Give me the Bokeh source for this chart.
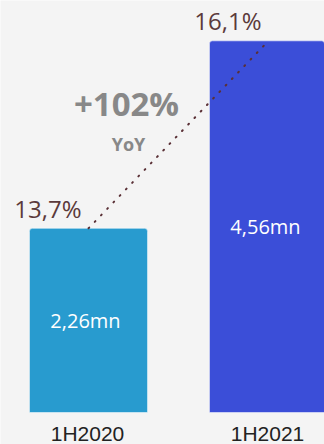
from bokeh.plotting import figure
from bokeh.models import ColumnDataSource, Range1d, Label
from bokeh.core.properties import value
from bokeh.embed import file_html
from bokeh.resources import INLINE

# ---- data ----
periods = ["1H2020", "1H2021"]
units_mn = [2.26, 4.56]
unit_labels = ["2,26mn", "4,56mn"]
share_labels = ["13,7%", "16,1%"]
yoy_label = "+102%"
yoy_sub = "YoY"
bar_colors = ["#289BCF", "#3B4ED8"]

xpos = list(range(len(periods)))
src = ColumnDataSource(dict(
    x=xpos, top=units_mn, mid=[v / 2 for v in units_mn],
    period=periods, ulab=unit_labels, slab=share_labels, color=bar_colors,
    base=[0] * len(periods),
))

W, H = 324, 444
p = figure(width=W, height=H, output_backend="svg", toolbar_location=None,
           min_border=0, x_range=Range1d(-0.4889, 1.3111),
           y_range=Range1d(-0.3926, -0.3926 + H / 81.5))
p.axis.visible = False
p.grid.visible = False
p.outline_line_color = None
p.background_fill_color = "#F4F4F4"
p.border_fill_color = "#F4F4F4"

p.vbar(x="x", top="top", bottom=0, width=0.656, fill_color="color",
       line_color="white", line_alpha=0.5, line_width=1,
       border_radius=(3, 3, 0, 0), source=src)

# dotted trend line connecting bar tops
p.line(x="x", y="top", source=src, line_color="#5A3036", line_width=2,
       line_dash="1 8", line_cap="round")

# share labels
p.text(x="x", y="top", text="slab", source=src, text_align="right",
       text_baseline="middle", x_offset=-7, y_offset=-20,
       text_font=value("Open Sans"), text_font_size="24px",
       text_color="#5B3A3B")

# value labels inside bars
p.text(x="x", y="mid", text="ulab", source=src, text_align="center",
       text_baseline="middle", x_offset=-3, y_offset=0,
       text_font=value("Open Sans"), text_font_size="20px",
       text_font_style="normal", text_color="white")

# category labels
p.text(x="x", y="base", text="period", source=src, text_align="center",
       text_baseline="middle", x_offset=-1, y_offset=21,
       text_font=value("Liberation Sans"), text_font_size="21px",
       text_color="#222222")

# YoY annotation
p.add_layout(Label(x=126, y=341, x_units="screen", y_units="screen",
                   text=yoy_label, text_align="center", text_baseline="middle",
                   text_font="Open Sans", text_font_size="33px",
                   text_font_style="bold", text_color="#888888"))
p.add_layout(Label(x=128, y=301, x_units="screen", y_units="screen",
                   text=yoy_sub, text_align="center", text_baseline="middle",
                   text_font="Open Sans", text_font_size="18px",
                   text_font_style="bold", text_color="#888888"))

open("out.html", "w").write(file_html(p, INLINE))
